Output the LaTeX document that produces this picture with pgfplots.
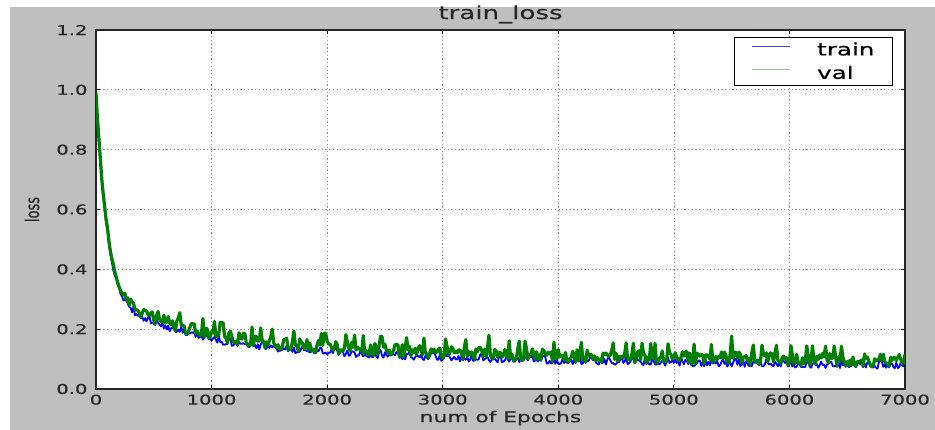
\documentclass[border=0pt]{standalone}
\usepackage{fontspec}
\setmainfont{DejaVu Sans}[FakeStretch=1.45,FakeBold=0.4]
\newfontfamily\plainfont{DejaVu Sans}[FakeBold=0.4]
\usepackage{graphicx}
\usepackage{pgfplots}
\pgfplotsset{compat=1.18}
\usepackage{pgfplotstable}
\definecolor{figgray}{RGB}{191,191,191}
\definecolor{mplgreen}{RGB}{0,128,0}

\pgfplotstableread{
e t v
0 0.965 0.990
12.5 0.890 0.905
25 0.828 0.838
37.5 0.757 0.770
50 0.695 0.702
62.5 0.640 0.652
75 0.604 0.610
87.5 0.553 0.566
100 0.524 0.538
112.5 0.482 0.492
125 0.449 0.459
137.5 0.424 0.436
150 0.397 0.417
162.5 0.379 0.392
175 0.371 0.375
187.5 0.348 0.356
200 0.338 0.341
212.5 0.318 0.330
225 0.310 0.320
237.5 0.296 0.315
250 0.300 0.320
262.5 0.294 0.298
275 0.285 0.305
287.5 0.274 0.280
300 0.272 0.300
312.5 0.256 0.291
325 0.276 0.287
337.5 0.246 0.264
350 0.251 0.265
362.5 0.245 0.262
375 0.245 0.254
387.5 0.237 0.241
400 0.242 0.253
412.5 0.228 0.266
425 0.237 0.263
437.5 0.226 0.261
450 0.238 0.248
462.5 0.245 0.246
475 0.219 0.254
487.5 0.223 0.257
500 0.218 0.230
512.5 0.214 0.218
525 0.232 0.246
537.5 0.221 0.259
550 0.216 0.232
562.5 0.209 0.226
575 0.222 0.224
587.5 0.202 0.247
600 0.212 0.220
612.5 0.199 0.224
625 0.212 0.242
637.5 0.193 0.221
650 0.203 0.214
662.5 0.205 0.228
675 0.202 0.206
687.5 0.191 0.195
700 0.191 0.228
712.5 0.199 0.237
725 0.191 0.255
737.5 0.208 0.214
750 0.188 0.212
762.5 0.196 0.211
775 0.181 0.185
787.5 0.180 0.184
800 0.188 0.192
812.5 0.185 0.206
825 0.189 0.219
837.5 0.188 0.218
850 0.190 0.217
862.5 0.174 0.186
875 0.190 0.194
887.5 0.171 0.183
900 0.173 0.177
912.5 0.182 0.186
925 0.165 0.235
937.5 0.173 0.174
950 0.177 0.202
962.5 0.182 0.201
975 0.166 0.170
987.5 0.170 0.174
1000 0.161 0.193
1012.5 0.169 0.187
1025 0.174 0.226
1037.5 0.165 0.176
1050 0.155 0.175
1062.5 0.178 0.184
1075 0.156 0.223
1087.5 0.158 0.222
1100 0.148 0.221
1112.5 0.148 0.176
1125 0.150 0.170
1137.5 0.150 0.154
1150 0.172 0.188
1162.5 0.169 0.193
1175 0.144 0.177
1187.5 0.146 0.156
1200 0.151 0.155
1212.5 0.156 0.160
1225 0.144 0.149
1237.5 0.158 0.188
1250 0.151 0.172
1262.5 0.151 0.167
1275 0.153 0.186
1287.5 0.150 0.186
1300 0.151 0.155
1312.5 0.143 0.150
1325 0.140 0.144
1337.5 0.144 0.148
1350 0.158 0.207
1362.5 0.143 0.147
1375 0.148 0.176
1387.5 0.136 0.176
1400 0.150 0.160
1412.5 0.132 0.160
1425 0.149 0.204
1437.5 0.158 0.164
1450 0.157 0.158
1462.5 0.134 0.138
1475 0.135 0.157
1487.5 0.144 0.147
1500 0.137 0.161
1512.5 0.146 0.176
1525 0.139 0.200
1537.5 0.145 0.155
1550 0.140 0.144
1562.5 0.135 0.139
1575 0.125 0.148
1587.5 0.129 0.133
1600 0.128 0.132
1612.5 0.133 0.142
1625 0.135 0.166
1637.5 0.132 0.166
1650 0.146 0.170
1662.5 0.126 0.130
1675 0.131 0.135
1687.5 0.134 0.135
1700 0.124 0.159
1712.5 0.139 0.194
1725 0.120 0.148
1737.5 0.123 0.143
1750 0.123 0.127
1762.5 0.125 0.167
1775 0.134 0.157
1787.5 0.143 0.152
1800 0.130 0.136
1812.5 0.130 0.136
1825 0.126 0.165
1837.5 0.126 0.130
1850 0.122 0.154
1862.5 0.125 0.129
1875 0.130 0.134
1887.5 0.120 0.124
1900 0.119 0.123
1912.5 0.127 0.148
1925 0.126 0.162
1937.5 0.138 0.147
1950 0.137 0.186
1962.5 0.119 0.146
1975 0.119 0.186
1987.5 0.122 0.186
2000 0.115 0.160
2012.5 0.121 0.150
2025 0.121 0.150
2037.5 0.133 0.140
2050 0.120 0.129
2062.5 0.135 0.139
2075 0.137 0.158
2087.5 0.128 0.148
2100 0.114 0.118
2112.5 0.124 0.128
2125 0.127 0.132
2137.5 0.123 0.127
2150 0.109 0.137
2162.5 0.118 0.182
2175 0.129 0.156
2187.5 0.111 0.136
2200 0.114 0.126
2212.5 0.126 0.156
2225 0.125 0.140
2237.5 0.122 0.180
2250 0.107 0.130
2262.5 0.113 0.140
2275 0.112 0.134
2287.5 0.127 0.134
2300 0.118 0.124
2312.5 0.109 0.179
2325 0.114 0.118
2337.5 0.111 0.128
2350 0.108 0.118
2362.5 0.105 0.113
2375 0.116 0.147
2387.5 0.107 0.127
2400 0.107 0.112
2412.5 0.131 0.152
2425 0.109 0.141
2437.5 0.103 0.116
2450 0.124 0.146
2462.5 0.130 0.176
2475 0.111 0.175
2487.5 0.105 0.140
2500 0.123 0.150
2512.5 0.114 0.130
2525 0.108 0.120
2537.5 0.117 0.130
2550 0.113 0.114
2562.5 0.115 0.119
2575 0.116 0.129
2587.5 0.113 0.149
2600 0.124 0.148
2612.5 0.124 0.148
2625 0.104 0.108
2637.5 0.109 0.113
2650 0.100 0.148
2662.5 0.104 0.108
2675 0.099 0.137
2687.5 0.117 0.172
2700 0.117 0.132
2712.5 0.126 0.142
2725 0.107 0.111
2737.5 0.104 0.131
2750 0.098 0.121
2762.5 0.107 0.136
2775 0.112 0.116
2787.5 0.110 0.136
2800 0.106 0.145
2812.5 0.115 0.130
2825 0.100 0.115
2837.5 0.097 0.170
2850 0.111 0.119
2862.5 0.105 0.119
2875 0.100 0.104
2887.5 0.108 0.119
2900 0.120 0.134
2912.5 0.120 0.124
2925 0.119 0.133
2937.5 0.113 0.123
2950 0.098 0.123
2962.5 0.098 0.133
2975 0.115 0.137
2987.5 0.094 0.107
3000 0.098 0.102
3012.5 0.106 0.112
3025 0.118 0.167
3037.5 0.109 0.142
3050 0.112 0.116
3062.5 0.105 0.121
3075 0.096 0.141
3087.5 0.102 0.136
3100 0.108 0.121
3112.5 0.099 0.126
3125 0.099 0.121
3137.5 0.111 0.131
3150 0.092 0.130
3162.5 0.110 0.120
3175 0.096 0.100
3187.5 0.104 0.140
3200 0.098 0.165
3212.5 0.106 0.110
3225 0.092 0.125
3237.5 0.098 0.115
3250 0.118 0.124
3262.5 0.094 0.114
3275 0.095 0.099
3287.5 0.100 0.134
3300 0.097 0.124
3312.5 0.100 0.139
3325 0.115 0.139
3337.5 0.118 0.129
3350 0.096 0.108
3362.5 0.099 0.133
3375 0.104 0.108
3387.5 0.108 0.138
3400 0.096 0.180
3412.5 0.090 0.113
3425 0.099 0.103
3437.5 0.099 0.103
3450 0.101 0.132
3462.5 0.095 0.127
3475 0.089 0.107
3487.5 0.107 0.122
3500 0.116 0.122
3512.5 0.089 0.107
3525 0.092 0.112
3537.5 0.095 0.132
3550 0.109 0.121
3562.5 0.100 0.101
3575 0.091 0.161
3587.5 0.102 0.106
3600 0.103 0.116
3612.5 0.091 0.096
3625 0.092 0.096
3637.5 0.100 0.101
3650 0.105 0.135
3662.5 0.090 0.160
3675 0.099 0.100
3687.5 0.093 0.095
3700 0.096 0.105
3712.5 0.108 0.160
3725 0.105 0.135
3737.5 0.096 0.100
3750 0.107 0.114
3762.5 0.107 0.114
3775 0.110 0.134
3787.5 0.092 0.119
3800 0.095 0.099
3812.5 0.098 0.124
3825 0.092 0.099
3837.5 0.101 0.114
3850 0.094 0.098
3862.5 0.109 0.133
3875 0.112 0.128
3887.5 0.106 0.118
3900 0.085 0.113
3912.5 0.085 0.123
3925 0.094 0.118
3937.5 0.085 0.123
3950 0.088 0.092
3962.5 0.102 0.157
3975 0.084 0.102
3987.5 0.098 0.102
4000 0.084 0.132
4012.5 0.084 0.107
4025 0.087 0.112
4037.5 0.102 0.112
4050 0.087 0.097
4062.5 0.093 0.122
4075 0.088 0.092
4087.5 0.087 0.092
4100 0.092 0.101
4112.5 0.098 0.106
4125 0.083 0.126
4137.5 0.098 0.111
4150 0.087 0.091
4162.5 0.107 0.131
4175 0.092 0.096
4187.5 0.107 0.121
4200 0.083 0.156
4212.5 0.086 0.096
4225 0.098 0.106
4237.5 0.087 0.091
4250 0.094 0.130
4262.5 0.094 0.110
4275 0.106 0.115
4287.5 0.106 0.115
4300 0.096 0.100
4312.5 0.106 0.110
4325 0.088 0.095
4337.5 0.085 0.105
4350 0.082 0.095
4362.5 0.097 0.100
4375 0.086 0.090
4387.5 0.088 0.120
4400 0.100 0.115
4412.5 0.082 0.120
4425 0.099 0.114
4437.5 0.108 0.109
4450 0.096 0.114
4462.5 0.087 0.129
4475 0.087 0.154
4487.5 0.081 0.099
4500 0.084 0.119
4512.5 0.090 0.094
4525 0.090 0.109
4537.5 0.099 0.104
4550 0.105 0.109
4562.5 0.087 0.104
4575 0.093 0.119
4587.5 0.105 0.154
4600 0.083 0.098
4612.5 0.086 0.103
4625 0.092 0.098
4637.5 0.107 0.118
4650 0.098 0.153
4662.5 0.086 0.088
4675 0.107 0.108
4687.5 0.095 0.123
4700 0.095 0.128
4712.5 0.092 0.098
4725 0.083 0.153
4737.5 0.080 0.118
4750 0.106 0.112
4762.5 0.083 0.087
4775 0.091 0.107
4787.5 0.082 0.097
4800 0.082 0.152
4812.5 0.100 0.107
4825 0.094 0.102
4837.5 0.082 0.152
4850 0.082 0.087
4862.5 0.088 0.092
4875 0.082 0.102
4887.5 0.088 0.107
4900 0.097 0.127
4912.5 0.088 0.092
4925 0.078 0.091
4937.5 0.090 0.096
4950 0.105 0.151
4962.5 0.087 0.121
4975 0.090 0.116
4987.5 0.096 0.101
5000 0.087 0.106
5012.5 0.099 0.121
5025 0.087 0.106
5037.5 0.092 0.096
5050 0.078 0.096
5062.5 0.105 0.106
5075 0.092 0.125
5087.5 0.083 0.110
5100 0.098 0.125
5112.5 0.092 0.125
5125 0.083 0.090
5137.5 0.104 0.120
5150 0.081 0.085
5162.5 0.077 0.085
5175 0.077 0.150
5187.5 0.081 0.085
5200 0.086 0.120
5212.5 0.095 0.115
5225 0.095 0.110
5237.5 0.077 0.115
5250 0.091 0.114
5262.5 0.076 0.084
5275 0.097 0.114
5287.5 0.079 0.114
5300 0.091 0.109
5312.5 0.079 0.099
5325 0.103 0.149
5337.5 0.085 0.089
5350 0.091 0.099
5362.5 0.085 0.109
5375 0.095 0.099
5387.5 0.076 0.109
5400 0.079 0.104
5412.5 0.091 0.124
5425 0.102 0.103
5437.5 0.084 0.123
5450 0.090 0.113
5462.5 0.075 0.088
5475 0.084 0.088
5487.5 0.090 0.118
5500 0.075 0.177
5512.5 0.087 0.103
5525 0.102 0.123
5537.5 0.099 0.123
5550 0.081 0.103
5562.5 0.099 0.123
5575 0.077 0.117
5587.5 0.080 0.087
5600 0.098 0.107
5612.5 0.074 0.107
5625 0.092 0.112
5637.5 0.086 0.092
5650 0.077 0.102
5662.5 0.078 0.082
5675 0.077 0.122
5687.5 0.092 0.147
5700 0.088 0.092
5712.5 0.089 0.092
5725 0.083 0.097
5737.5 0.080 0.082
5750 0.092 0.096
5762.5 0.076 0.146
5775 0.076 0.116
5787.5 0.082 0.111
5800 0.100 0.121
5812.5 0.087 0.091
5825 0.082 0.111
5837.5 0.085 0.121
5850 0.079 0.116
5862.5 0.076 0.091
5875 0.091 0.121
5887.5 0.085 0.146
5900 0.076 0.096
5912.5 0.087 0.091
5925 0.075 0.085
5937.5 0.099 0.105
5950 0.093 0.110
5962.5 0.087 0.100
5975 0.099 0.105
5987.5 0.075 0.080
6000 0.081 0.090
6012.5 0.099 0.145
6025 0.075 0.115
6037.5 0.084 0.085
6050 0.072 0.085
6062.5 0.075 0.115
6075 0.087 0.090
6087.5 0.081 0.085
6100 0.074 0.079
6112.5 0.074 0.104
6125 0.074 0.084
6137.5 0.074 0.094
6150 0.095 0.144
6162.5 0.089 0.109
6175 0.075 0.079
6187.5 0.071 0.099
6200 0.083 0.144
6212.5 0.090 0.094
6225 0.080 0.084
6237.5 0.083 0.109
6250 0.071 0.099
6262.5 0.080 0.114
6275 0.092 0.104
6287.5 0.080 0.119
6300 0.082 0.108
6312.5 0.070 0.143
6325 0.082 0.098
6337.5 0.085 0.088
6350 0.088 0.118
6362.5 0.091 0.103
6375 0.076 0.103
6387.5 0.076 0.143
6400 0.079 0.108
6412.5 0.074 0.078
6425 0.091 0.108
6437.5 0.070 0.093
6450 0.097 0.143
6462.5 0.079 0.108
6475 0.084 0.088
6487.5 0.074 0.078
6500 0.087 0.092
6512.5 0.073 0.077
6525 0.075 0.097
6537.5 0.078 0.082
6550 0.090 0.107
6562.5 0.078 0.082
6575 0.073 0.077
6587.5 0.088 0.092
6600 0.088 0.092
6612.5 0.084 0.092
6625 0.084 0.097
6637.5 0.073 0.077
6650 0.087 0.117
6662.5 0.072 0.102
6675 0.090 0.107
6687.5 0.088 0.092
6700 0.077 0.081
6712.5 0.072 0.076
6725 0.072 0.076
6737.5 0.077 0.101
6750 0.071 0.096
6762.5 0.068 0.096
6775 0.092 0.101
6787.5 0.095 0.116
6800 0.092 0.096
6812.5 0.074 0.116
6825 0.083 0.091
6837.5 0.071 0.086
6850 0.082 0.086
6862.5 0.072 0.076
6875 0.083 0.106
6887.5 0.086 0.096
6900 0.073 0.105
6912.5 0.070 0.105
6925 0.088 0.095
6937.5 0.070 0.105
6950 0.073 0.115
6962.5 0.088 0.100
6975 0.079 0.085
6987.5 0.076 0.085
7000 0.091 0.115
}\losstable

\begin{document}
\begin{tikzpicture}
\fill[white] (0,0) rectangle (935pt,430pt);
\fill[figgray] (10pt,0) rectangle (935pt,423pt);
\begin{axis}[
  at={(96pt,41pt)}, anchor=south west,
  scale only axis, width=809pt, height=359pt,
  axis background/.style={fill=white},
  xmin=0, xmax=7000, ymin=0, ymax=1.2,
  xtick={0,1000,2000,3000,4000,5000,6000,7000},
  xticklabels={0,1000,2000,3000,4000,5000,6000,7000},
  ytick={0,0.2,0.4,0.6,0.8,1.0,1.2},
  yticklabels={0.0,0.2,0.4,0.6,0.8,1.0,1.2},
  tick align=inside, tick pos=both, major tick length=4pt,
  every tick/.style={black, line width=0.8pt},
  grid=major,
  major grid style={black!45, line width=0.7pt, dash pattern=on 1.2pt off 2.5pt},
  axis line style={black!85, line width=1.3pt},
  ticklabel style={font=\fontsize{13.5}{15}\selectfont, text=black!85},
  xticklabel style={yshift=-2pt},
  yticklabel style={xshift=-5pt},
  title={train\_loss},
  title style={font=\fontsize{18}{20}\selectfont, text=black!85, at={(axis description cs:0.5,1.027)}, anchor=center},
  xlabel={num of Epochs},
  xlabel style={font=\fontsize{15}{17}\selectfont, text=black!85, at={(axis description cs:0.5,-0.081)}, anchor=center},
  ylabel={\scalebox{1}[1.45]{\plainfont loss}},
  ylabel style={font=\fontsize{13}{15}\selectfont, text=black!85, at={(axis description cs:-0.0791,0.5)}, anchor=center},
  legend style={at={(axis description cs:1,1)}, anchor=north east, xshift=-12pt, yshift=-7pt,
    draw=black, line width=1pt, fill=white, font=\fontsize{17}{19}\selectfont,
    inner xsep=16pt, inner ysep=3pt, row sep=5pt,
    /tikz/every odd column/.append style={column sep=25pt}},
  legend cell align=left,
]
\addplot[color=blue, draw=blue, line width=1.8pt, line join=round,
  legend image code/.code={\draw[draw=blue!75, line width=1.2pt] (0pt,0.33em) -- (38pt,0.33em);}]
  table[x=e, y=t]{\losstable};
\addlegendentry{train}
\addplot[color=mplgreen, draw=mplgreen, line width=3.2pt, line join=round,
  legend image code/.code={\draw[draw=mplgreen!45, line width=1.2pt] (0pt,0.33em) -- (38pt,0.33em);}]
  table[x=e, y=v]{\losstable};
\addlegendentry{val}
\end{axis}
\pgfresetboundingbox
\useasboundingbox (0,0) rectangle (935pt,430pt);
\end{tikzpicture}
\end{document}
